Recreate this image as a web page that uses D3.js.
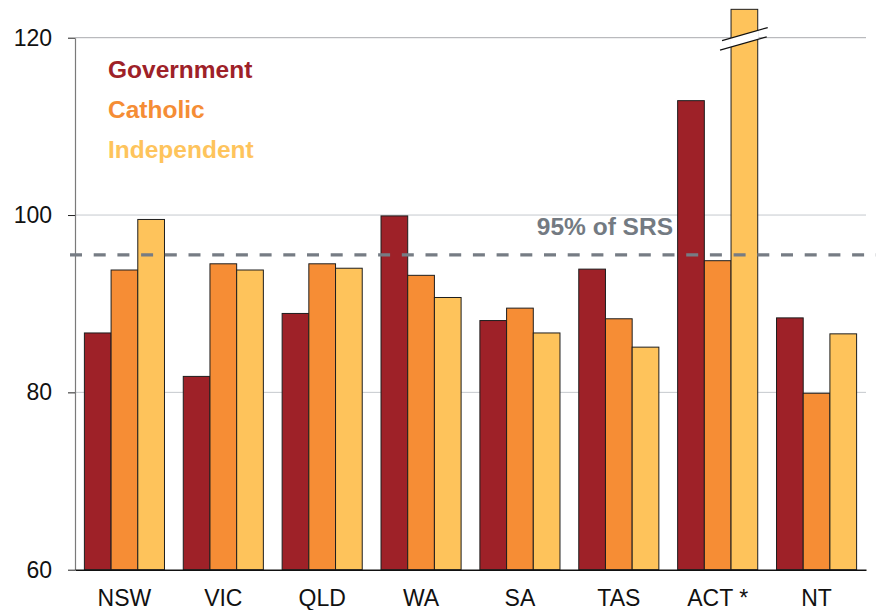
<!DOCTYPE html>
<html>
<head>
<meta charset="utf-8">
<script src="https://cdn.jsdelivr.net/npm/d3@7"></script>
<style>
  body { margin: 0; background: #fff; }
  text { font-family: "Liberation Sans", Arial, Helvetica, sans-serif; }
</style>
</head>
<body>
<div id="chart"></div>
<script>
// data
var states = ["NSW", "VIC", "QLD", "WA", "SA", "TAS", "ACT *", "NT"];
var series = ["Government", "Catholic", "Independent"];
var government = [86.7, 81.8, 88.9, 99.9, 88.1, 93.9, 112.9, 88.4];
var catholic = [93.8, 94.5, 94.5, 93.2, 89.5, 88.3, 94.85, 79.9];
var independent = [99.5, 93.8, 94.0, 90.7, 86.7, 85.1, 123.2, 86.6]; // ACT shown truncated
var yTicks = [60, 80, 100, 120];
var srsLine = 95.5;
var srsLabel = "95% of SRS";

var colors = { "Government": "#9e2128", "Catholic": "#f68d35", "Independent": "#fec35b" };
var legendColors = { "Government": "#9e2128", "Catholic": "#f58d35", "Independent": "#fec45c" };

var width = 876, height = 610;
var plotLeft = 75, plotRight = 866, plotBottom = 569.7, plotTop = 37.7;

var svg = d3.select("#chart").append("svg")
    .attr("width", width)
    .attr("height", height);

var x = d3.scaleBand()
    .domain(states)
    .range([plotLeft, plotRight])
    .paddingInner(0.19)
    .paddingOuter(0.095);

var xSub = d3.scaleBand()
    .domain(series)
    .range([0, x.bandwidth()]);

var y = d3.scaleLinear()
    .domain([60, 120])
    .range([plotBottom, plotTop]);

var data = states.map(function (s, i) {
    return { state: s, values: [
        { name: "Government", value: government[i] },
        { name: "Catholic", value: catholic[i] },
        { name: "Independent", value: independent[i] }
    ] };
});

// gridlines
svg.append("g")
    .selectAll("line")
    .data(yTicks.filter(function (d) { return d > 60; }))
    .enter().append("line")
    .attr("x1", plotLeft)
    .attr("x2", plotRight)
    .attr("y1", function (d) { return y(d); })
    .attr("y2", function (d) { return y(d); })
    .attr("stroke", function (d) { return d === 120 ? "#a9abae" : "#c5c9ce"; })
    .attr("stroke-width", 1);

// bars
var group = svg.selectAll(".state")
    .data(data)
    .enter().append("g")
    .attr("class", "state")
    .attr("transform", function (d) { return "translate(" + x(d.state) + ",0)"; });

group.selectAll("rect")
    .data(function (d) { return d.values; })
    .enter().append("rect")
    .attr("x", function (d) { return xSub(d.name); })
    .attr("width", xSub.bandwidth())
    .attr("y", function (d) { return y(d.value); })
    .attr("height", function (d) { return plotBottom - y(d.value); })
    .attr("fill", function (d) { return colors[d.name]; })
    .attr("stroke", "#1e1e1e")
    .attr("stroke-width", 1);

// axis break on the ACT independent bar
var bx = x("ACT *") + xSub("Independent"), bw = xSub.bandwidth();
var bcy = y(119.9);
var bx0 = bx - 9, bx1 = bx + bw + 10;
var rise = 13;
function lineY(base, px) { return base - rise * (px - bx0) / (bx1 - bx0); }
var upperBase = bcy + 2, lowerBase = bcy + 11;
svg.append("polygon")
    .attr("points", [[bx - 1, lineY(upperBase, bx - 1)], [bx + bw + 1, lineY(upperBase, bx + bw + 1)],
                     [bx + bw + 1, lineY(lowerBase, bx + bw + 1)], [bx - 1, lineY(lowerBase, bx - 1)]]
        .map(function (p) { return p.join(","); }).join(" "))
    .attr("fill", "#fff");
[upperBase, lowerBase].forEach(function (b, i) {
    var xa = bx0 - i * 2, xb = bx1 - i;
    svg.append("line")
        .attr("x1", xa).attr("y1", lineY(b, xa))
        .attr("x2", xb).attr("y2", lineY(b, xb))
        .attr("stroke", "#111")
        .attr("stroke-width", 1.2);
});

// y axis
var yAxis = svg.append("g")
    .attr("transform", "translate(" + plotLeft + ",0)")
    .call(d3.axisLeft(y).tickValues(yTicks).tickSize(7).tickSizeOuter(0).tickPadding(16));
yAxis.select(".domain").attr("stroke", "#7a7a7a").attr("stroke-width", 1.2);
yAxis.selectAll(".tick line").attr("stroke", "#222");
yAxis.selectAll(".tick text")
    .attr("fill", "#111")
    .style("font-size", "23px")
    .style("font-family", "'Liberation Sans', Arial, sans-serif");

// x axis
var xAxis = svg.append("g")
    .attr("transform", "translate(0," + plotBottom + ")")
    .call(d3.axisBottom(x).tickSize(0).tickSizeOuter(0));
xAxis.select(".domain").attr("stroke", "#111").attr("stroke-width", 1.4);
xAxis.selectAll(".tick text")
    .attr("y", 36)
    .attr("dy", 0)
    .attr("fill", "#111")
    .style("font-size", "23px")
    .style("font-family", "'Liberation Sans', Arial, sans-serif");

// 95% of SRS line
svg.append("line")
    .attr("x1", 70)
    .attr("x2", width)
    .attr("y1", y(srsLine))
    .attr("y2", y(srsLine))
    .attr("stroke", "#767c84")
    .attr("stroke-width", 3.3)
    .attr("stroke-dasharray", "12,11.7");

svg.append("text")
    .attr("x", 673)
    .attr("y", y(srsLine) - 19.5)
    .attr("text-anchor", "end")
    .attr("fill", "#737a82")
    .style("font-size", "24.5px")
    .style("font-weight", "bold")
    .text(srsLabel);

// legend
svg.selectAll(".legend")
    .data(series)
    .enter().append("text")
    .attr("class", "legend")
    .attr("x", 108)
    .attr("y", function (d, i) { return 78 + i * 40; })
    .attr("fill", function (d) { return legendColors[d]; })
    .style("font-size", "24.5px")
    .style("font-weight", "bold")
    .text(function (d) { return d; });
</script>
</body>
</html>
